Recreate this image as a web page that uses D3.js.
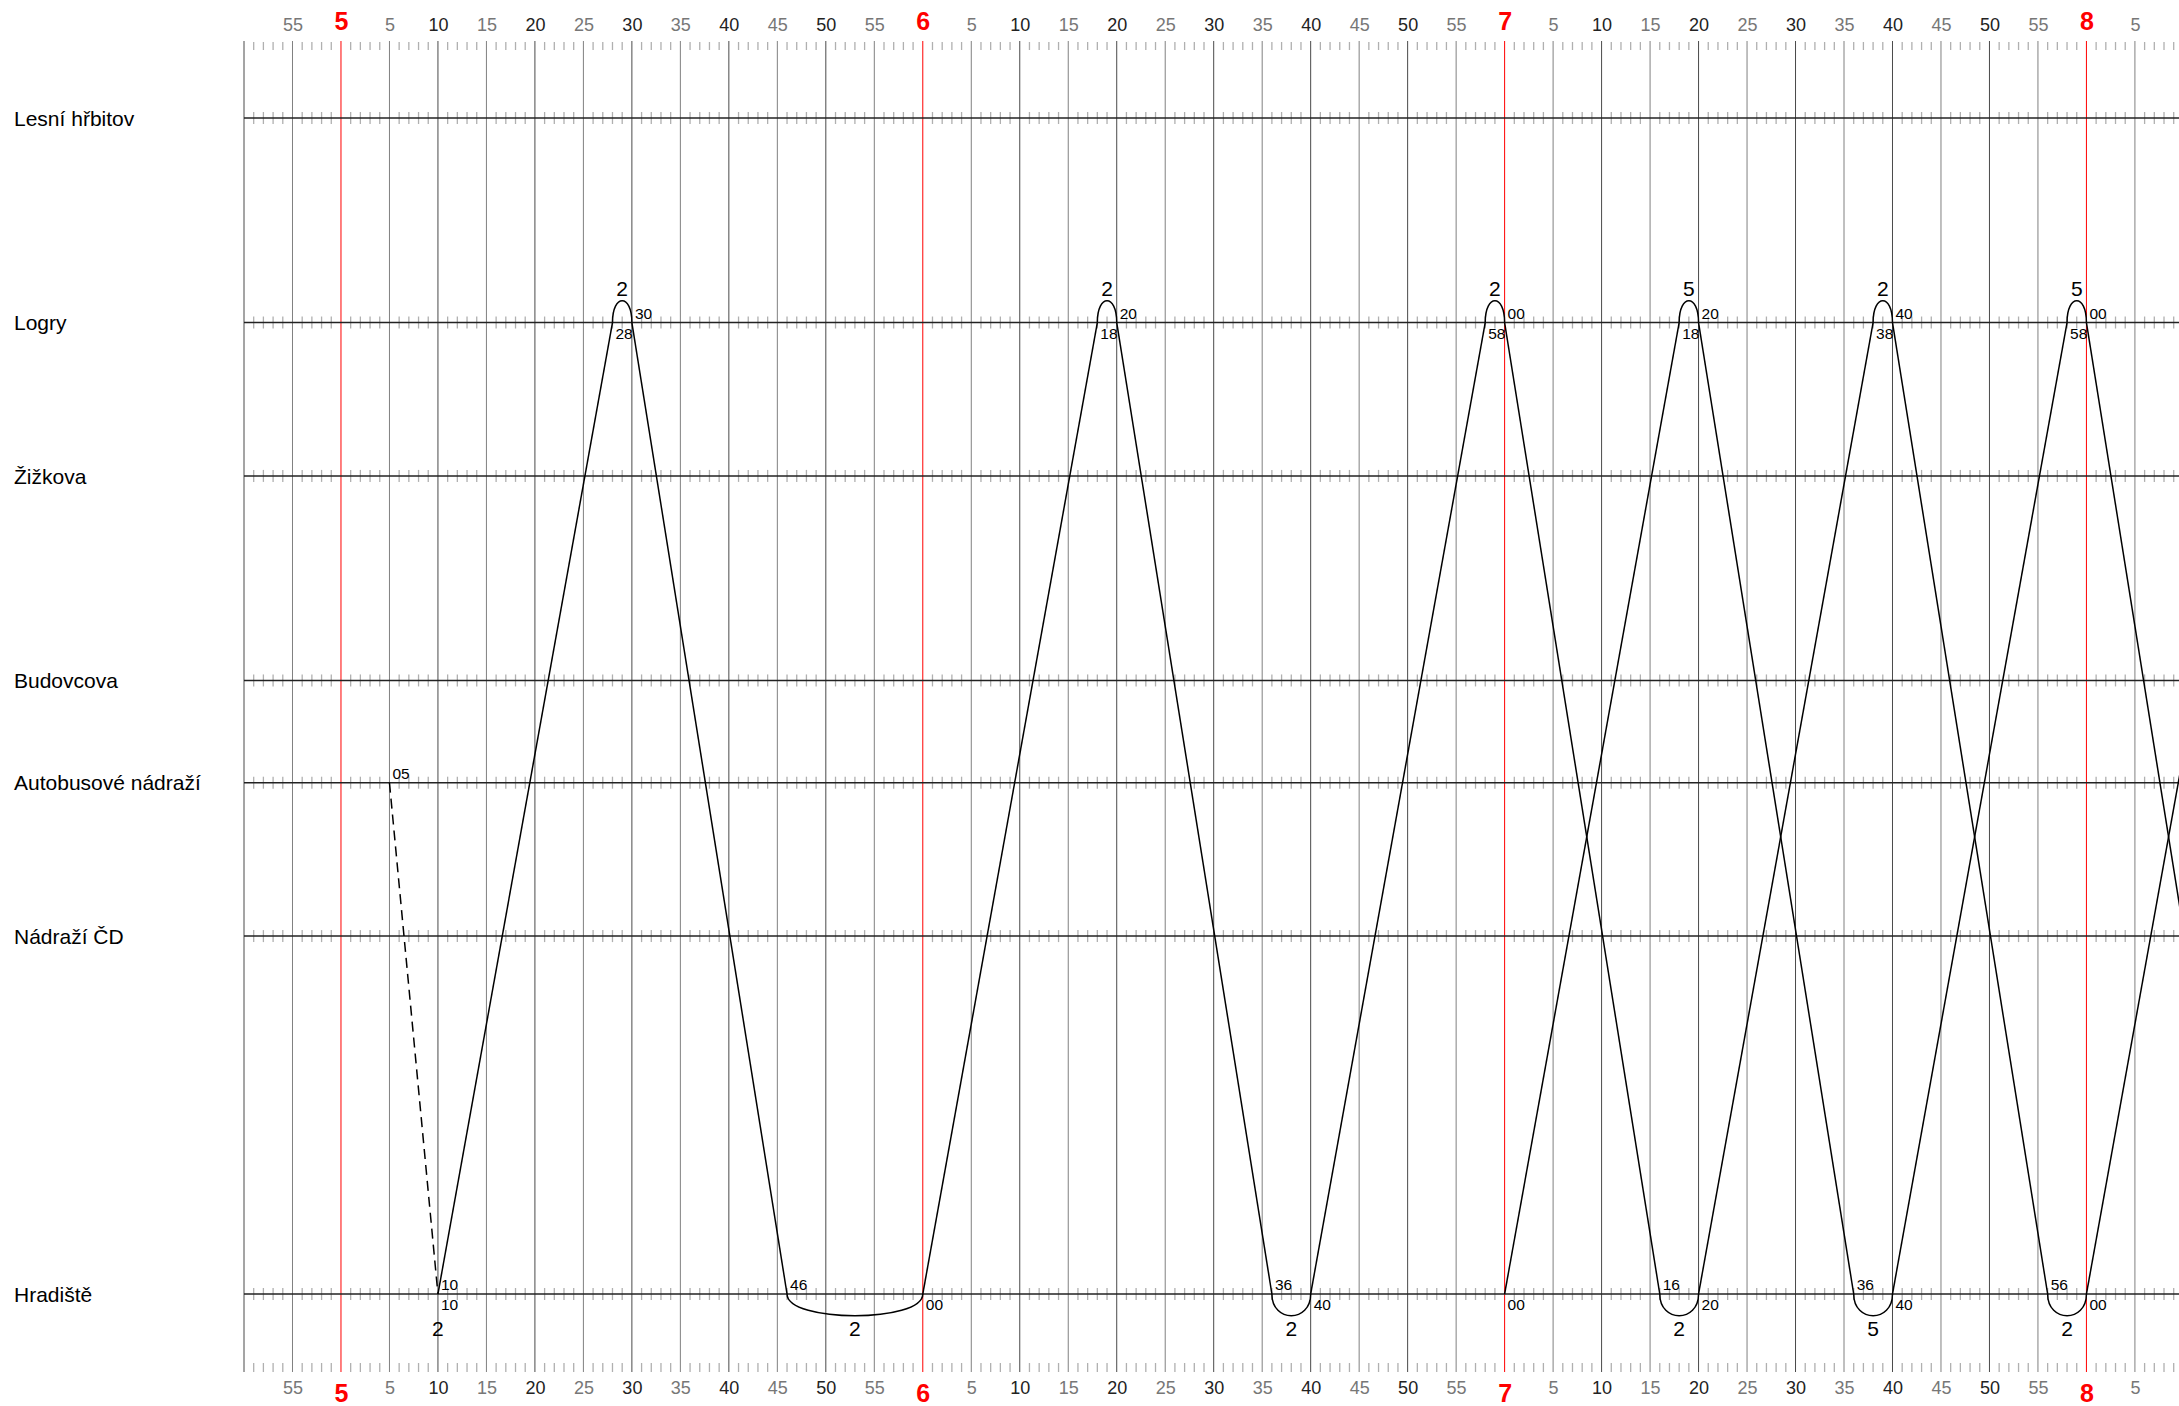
<!DOCTYPE html>
<html>
<head>
<meta charset="utf-8">
<script src="https://cdnjs.cloudflare.com/ajax/libs/d3/7.8.5/d3.min.js"></script>
<style>
  body { margin: 0; background: #fff; }
  svg { display: block; font-family: "Liberation Sans", Arial, sans-serif; }
</style>
</head>
<body>
<div id="chart"></div>
<script>
// stations along the route and their distance (km)
const stations = ["Lesní hřbitov", "Logry", "Žižkova", "Budovcova", "Autobusové nádraží", "Nádraží ČD", "Hradiště"];
const stationKm = [0, 2.0, 3.5, 5.5, 6.5, 8.0, 11.5];

// visible time window
const timeFrom = "4:50";
const timeTo = "8:10";

// vehicle duties: [station, arrival, departure]
const line2Stops = [
  ["Autobusové nádraží", null, "5:05"],
  ["Hradiště", "5:10", "5:10"],
  ["Logry", "5:28", "5:30"],
  ["Hradiště", "5:46", "6:00"],
  ["Logry", "6:18", "6:20"],
  ["Hradiště", "6:36", "6:40"],
  ["Logry", "6:58", "7:00"],
  ["Hradiště", "7:16", "7:20"],
  ["Logry", "7:38", "7:40"],
  ["Hradiště", "7:56", "8:00"],
  ["Logry", "8:18", null]
];
const line2Deadhead = [0]; // legs driven without passengers (dashed)

const line5Stops = [
  ["Hradiště", null, "7:00"],
  ["Logry", "7:18", "7:20"],
  ["Hradiště", "7:36", "7:40"],
  ["Logry", "7:58", "8:00"],
  ["Hradiště", "8:16", null]
];
const line5Deadhead = [];

const duties = [
  { line: "2", stops: line2Stops, dead: line2Deadhead },
  { line: "5", stops: line5Stops, dead: line5Deadhead }
];

const width = 2179, height = 1406;
const toMin = t => { const p = t.split(":"); return +p[0] * 60 + +p[1]; };
const pad2 = m => String(m % 60).padStart(2, "0");

const svg = d3.select("#chart").append("svg")
    .attr("width", width)
    .attr("height", height);

const x = d3.scaleLinear()
    .domain([toMin(timeFrom), toMin(timeTo)])
    .range([244, 244 + 200 * 9.697]);

const y = d3.scaleLinear()
    .domain([0, 11.5])
    .range([118, 1294]);

const yStation = name => y(stationKm[stations.indexOf(name)]);
const visible = px => px < width - 22;

const gridTop = 41, gridBottom = 1372;
const allMinutes = d3.range(toMin(timeFrom), toMin(timeTo) + 1);
const minorMinutes = allMinutes.filter(m => m % 5 !== 0);
const majorMinutes = allMinutes.filter(m => m % 5 === 0);

// minor minute ticks at top and bottom
const minorG = svg.append("g").attr("stroke", "#b0b0b0").attr("stroke-width", 1.3);
minorG.selectAll(".mt").data(minorMinutes).enter().append("line")
    .attr("x1", d => x(d)).attr("x2", d => x(d))
    .attr("y1", 42).attr("y2", 50);
minorG.selectAll(".mb").data(minorMinutes).enter().append("line")
    .attr("x1", d => x(d)).attr("x2", d => x(d))
    .attr("y1", 1363).attr("y2", 1372);

// station lines with minute ticks
stations.forEach(s => {
    const sy = yStation(s);
    minorG.selectAll(null).data(minorMinutes).enter().append("line")
        .attr("x1", d => x(d)).attr("x2", d => x(d))
        .attr("y1", sy - 6).attr("y2", sy + 6);
});

// 5 minute grid, red on the hour
svg.append("g").selectAll("line").data(majorMinutes).enter().append("line")
    .attr("x1", d => x(d)).attr("x2", d => x(d))
    .attr("y1", gridTop).attr("y2", gridBottom)
    .attr("stroke", d => d % 60 === 0 ? "#ff0000" : d % 10 === 0 ? "#4a4a4a" : "#808080")
    .attr("stroke-width", 1);

svg.append("g").selectAll("line").data(stations).enter().append("line")
    .attr("x1", x(toMin(timeFrom))).attr("x2", width)
    .attr("y1", d => yStation(d)).attr("y2", d => yStation(d))
    .attr("stroke", "#222")
    .attr("stroke-width", 1.5);

// station names
svg.append("g").selectAll("text").data(stations).enter().append("text")
    .attr("x", 14)
    .attr("y", d => yStation(d))
    .attr("dy", "0.37em")
    .attr("font-size", 21)
    .attr("fill", "#000")
    .text(d => d);

// time axes
const labelTicks = majorMinutes.filter(m => m > toMin(timeFrom) && visible(x(m)));
const fmt = m => m % 60 === 0 ? String(m / 60) : String(m % 60);
const styleAxis = (g, hourY, normalY) => {
    g.select(".domain").remove();
    g.attr("font-family", null).attr("font-size", null);
    g.selectAll("text")
        .attr("dy", 0)
        .attr("y", d => d % 60 === 0 ? hourY : normalY)
        .attr("font-size", d => d % 60 === 0 ? 25 : 18)
        .attr("font-weight", d => d % 60 === 0 ? "bold" : "normal")
        .attr("fill", d => d % 60 === 0 ? "#ff0000" : d % 10 === 0 ? "#222" : "#777");
};

svg.append("g")
    .attr("transform", "translate(0,31)")
    .call(d3.axisTop(x).tickValues(labelTicks).tickSize(0).tickPadding(0).tickFormat(fmt))
    .call(g => styleAxis(g, -1, 0));

svg.append("g")
    .attr("transform", "translate(0,1394)")
    .call(d3.axisBottom(x).tickValues(labelTicks).tickSize(0).tickPadding(0).tickFormat(fmt))
    .call(g => styleAxis(g, 8, 0));

// vehicle runs
const runs = svg.append("g").attr("fill", "none").attr("stroke", "#000").attr("stroke-width", 1.5);
const labels = svg.append("g").attr("fill", "#000");

duties.forEach(duty => {
    const stops = duty.stops;
    stops.forEach((st, i) => {
        const sy = yStation(st[0]);
        const prev = stops[i - 1], next = stops[i + 1];

        // leg to the next stop
        if (next && st[2] && next[1]) {
            runs.append("line")
                .attr("x1", x(toMin(st[2]))).attr("y1", sy)
                .attr("x2", x(toMin(next[1]))).attr("y2", yStation(next[0]))
                .attr("stroke-dasharray", duty.dead.includes(i) ? "10,6" : null);
        }

        // arrival label on the side the run comes from
        if (st[1] && prev && visible(x(toMin(st[1])))) {
            const above = yStation(prev[0]) < sy;
            labels.append("text")
                .attr("x", x(toMin(st[1])) + 3)
                .attr("y", above ? sy - 4 : sy + 16)
                .attr("font-size", 15.5)
                .text(pad2(toMin(st[1])));
        }

        // departure label on the side opposite to the next leg
        if (st[2] && next && visible(x(toMin(st[2])))) {
            const below = yStation(next[0]) < sy;
            labels.append("text")
                .attr("x", x(toMin(st[2])) + 3)
                .attr("y", below ? sy + 16 : sy - 4)
                .attr("font-size", 15.5)
                .text(pad2(toMin(st[2])));
        }

        // turnaround loop and line number
        if (st[1] && st[2] && prev) {
            const side = yStation(prev[0]) < sy ? 1 : -1;
            const a = x(toMin(st[1])), b = x(toMin(st[2]));
            if (b > a) {
                runs.append("path")
                    .attr("d", `M${a},${sy}C${a},${sy + side * 29} ${b},${sy + side * 29} ${b},${sy}`);
            }
            labels.append("text")
                .attr("x", (a + b) / 2)
                .attr("y", side > 0 ? sy + 42 : sy - 27)
                .attr("text-anchor", "middle")
                .attr("font-size", 21)
                .text(duty.line);
        }
    });
});
</script>
</body>
</html>
